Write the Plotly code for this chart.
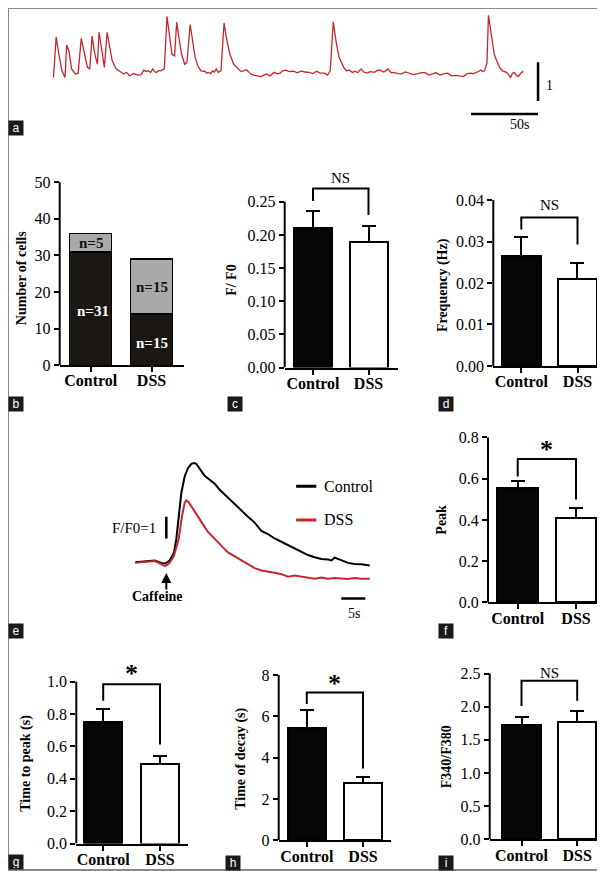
import plotly.graph_objects as go

W, H = 605, 871
SERIF = "Liberation Serif"
SANS = "Liberation Sans"
RED = "#c8262c"
BLACK = "#060606"

# ---------------- data ----------------
GROUPS = ["Control", "DSS"]

# panel a: spontaneous Ca2+ trace (time in s, F/F0 change)
a_time = [0, 2.0, 4.0, 6.3, 8.6, 9.8, 11.5, 13.5, 16.4, 18.4, 20.7, 23.0, 25.3, 27.1, 28.8, 30.8,
          32.8, 34.0, 35.7, 38.0, 40.0, 41.8, 43.8, 46.7, 49.5, 51.0, 52.4, 54.0, 55.3, 56.5, 57.6,
          59.5, 61.1, 63.0, 65.4, 67.4, 69.0, 71.1, 72.5, 74.0, 75.5, 76.9, 78.5, 79.8, 81.5, 82.7,
          84.7, 86.4, 88.4, 90.4, 91.9, 93.6, 95.6, 97.9, 99.6, 102.0, 103.7, 105.7, 107.7, 110.0,
          112.9, 114.5, 115.8, 117.3, 118.7, 120.0, 121.5, 123.0, 125.0, 127.3, 129.0, 131.6, 134.5,
          138.2, 140.0, 141.7, 144.0, 146.0, 148.0, 150.3, 152.5, 154.7, 157.0, 159.0, 161.5, 164.7,
          167.0, 169.1, 171.0, 173.4, 176.0, 179.1, 182.0, 184.9, 187.5, 190.7, 193.5, 196.4, 199.0,
          202.2, 204.5, 206.5, 208.8, 210.8, 213.1, 216.6, 218.5, 220.9, 223.0, 225.2, 227.0, 229.5,
          231.5, 233.9, 236.5, 239.6, 241.5, 243.9, 246.5, 249.7, 252.0, 254.0, 257.0, 259.8, 262.5,
          265.5, 268.5, 271.3, 274.0, 277.1, 280.0, 282.8, 285.5, 288.6, 291.5, 294.3, 297.0, 300.1,
          303.0, 305.9, 308.5, 311.6, 313.5, 315.9, 317.5, 318.8, 320.3, 321.7, 323.5, 324.6, 326.6,
          328.9, 331.8, 333.5, 335.2, 336.8, 338.1, 339.5, 341.0, 342.5, 343.9, 345.5, 346.8, 348.5,
          350.5]
a_ratio = [-0.08, 0.97, 0.52, 0.09, -0.08, 0.76, 0.61, 0.14, 0.01, 0.03, 0.93, 0.52, 0.18, 0.14, 0.99, 0.52,
           0.26, 1.09, 0.69, 0.18, 1.09, 0.78, 0.35, 0.14, 0.08, 0.03, 0.01, 0.05, 0.03, -0.04, -0.03,
           0.02, 0.01, -0.02, -0.01, 0.11, 0.08, 0.09, 0.05, 0.14, 0.07, 0.05, 0.10, 0.09, 0.12, 0.14,
           1.50, 1.03, 0.52, 0.48, 1.35, 0.95, 0.52, 0.26, 0.31, 1.29, 0.86, 0.44, 0.22, 0.09,
           0.08, 0.03, 0.05, 0.02, 0.09, 0.06, 0.14, 0.05, 0.09, 1.33, 0.95, 0.52, 0.26,
           0.14, 0.07, 0.09, 0.12, 0.05, -0.01, -0.03, -0.05, -0.06, -0.02, 0.01, -0.04, 0.05,
           0.01, 0.03, 0.09, 0.11, 0.07, 0.08, 0.04, 0.09, 0.06, 0.05, 0.02, 0.08, 0.03,
           0.03, -0.02, 0.09, 1.36, 0.86, 0.44, 0.18, 0.09, 0.11, 0.05, 0.08, 0.04, 0.14,
           0.06, 0.03, 0.07, 0.05, 0.10, 0.11, 0.06, 0.14, 0.04, 0.05, 0.02, 0.01, 0.06,
           0.03, -0.01, 0.01, 0.04, 0.05, -0.02, 0.01, 0.04, -0.02, 0.02, 0.03, -0.04, -0.03,
           -0.05, -0.06, 0.01, 0.03, 0.02, 0.05, 0.08, 0.11, 0.07, 0.09, 0.30, 1.53, 1.03,
           0.52, 0.26, 0.15, 0.09, 0.06, 0.05, 0.00, -0.08, 0.02, 0.05, -0.03, -0.06, 0.02,
           0.08]

# panel b: number of cells (stacked)
b_black = [31, 14]
b_gray = [5, 15]
b_black_text = ["n=31", "n=15"]
b_gray_text = ["n=5", "n=15"]

# panels c, d, f, g, h, i: mean and SEM
c_mean = [0.211, 0.189]; c_err = [0.025, 0.025]
d_mean = [0.0265, 0.0209]; d_err = [0.0046, 0.0039]
f_mean = [0.553, 0.411]; f_err = [0.037, 0.048]
g_mean = [0.754, 0.489]; g_err = [0.078, 0.051]
h_mean = [5.45, 2.79]; h_err = [0.87, 0.26]
i_mean = [1.73, 1.77]; i_err = [0.11, 0.16]

# significance brackets: [left leg bottom, top, right leg bottom, label y], label
c_sig = [0.251, 0.270, 0.230, 0.2855]; c_lab = "NS"
d_sig = [0.0329, 0.0358, 0.0293, 0.0388]; d_lab = "NS"
f_sig = [0.611, 0.695, 0.499, 0.725]; f_lab = "*"
g_sig = [0.883, 0.985, 0.613, 1.030]; g_lab = "*"
h_sig = [6.60, 7.15, 3.48, 7.45]; h_lab = "*"
i_sig = [2.01, 2.39, 2.09, 2.51]; i_lab = "NS"

# panel e: caffeine-induced transients (time in s, F/F0)
e_ctrl_t = [0, 1.94, 4.03, 5.42, 6.25, 7.15, 8.06, 8.54, 9.03, 9.58, 10.28, 10.97, 11.67, 12.22,
            12.71, 13.4, 14.44, 15.49, 16.53, 17.57, 18.61, 19.65, 20.69, 22.08, 23.47, 24.86,
            26.25, 27.64, 29.03, 30.42, 31.81, 33.19, 34.58, 35.97, 37.36, 38.75, 40.14, 40.83,
            41.53, 42.92, 44.31, 45.69, 47.08, 48.82]
e_ctrl_v = [0, 0.05, 0.08, -0.03, -0.06, 0.08, 0.45, 1.06, 2.12, 3.18, 3.94, 4.32, 4.52, 4.55,
            4.52, 4.32, 3.97, 3.79, 3.61, 3.33, 3.11, 2.88, 2.65, 2.35, 2.09, 1.82,
            1.44, 1.29, 1.09, 0.94, 0.79, 0.64, 0.48, 0.33, 0.23, 0.15, 0.12, 0.08,
            0.21, 0.08, -0.03, -0.08, -0.09, -0.15]
e_dss_t = [0, 1.25, 2.64, 4.03, 5.42, 6.25, 7.15, 8.06, 9.03, 9.72, 10.28, 10.63, 11.11, 11.67,
           12.36, 13.06, 14.1, 15.14, 16.18, 17.22, 18.26, 19.31, 20.69, 22.08, 23.47, 24.86,
           26.25, 27.64, 29.03, 30.42, 31.81, 33.19, 34.58, 35.97, 37.36, 38.75, 40.14, 41.53,
           42.92, 44.31, 45.69, 47.08, 48.82]
e_dss_v = [-0.03, 0.0, 0.03, 0.06, -0.09, -0.18, -0.03, 0.30, 1.06, 2.12, 2.73, 2.85, 2.76, 2.58,
           2.35, 2.12, 1.74, 1.39, 1.14, 0.91, 0.68, 0.45, 0.27, 0.08, -0.08, -0.27,
           -0.38, -0.42, -0.48, -0.55, -0.67, -0.61, -0.67, -0.73, -0.76, -0.70, -0.76, -0.73,
           -0.76, -0.77, -0.73, -0.76, -0.76]

# ---------------- helpers ----------------
def xdom(p0, p1):
    return [p0 / W, p1 / W]

def ydom(top, bottom):
    return [1 - bottom / H, 1 - top / H]

def px(x):
    return x / W

def py(y):
    return 1 - y / H

def names(n):
    return ("x" if n == 1 else f"x{n}"), ("y" if n == 1 else f"y{n}")

def key(a, n):
    return a + "axis" + ("" if n == 1 else str(n))

fig = go.Figure()
layout = dict(width=W, height=H, margin=dict(l=0, r=0, t=0, b=0),
              paper_bgcolor="white", plot_bgcolor="rgba(0,0,0,0)",
              showlegend=False, barmode="stack",
              font=dict(family=SERIF, color="black"))
shapes = []
annotations = []

# ---------------- panel a ----------------
layout["xaxis"] = dict(domain=xdom(40, 560), range=[-4.10, 383.96], visible=False, anchor="y")
layout["yaxis"] = dict(domain=ydom(0, 130), range=[-1.615, 1.718], visible=False, anchor="x")
fig.add_trace(go.Scatter(x=a_time, y=a_ratio, mode="lines", line=dict(color=RED, width=1.3),
                         xaxis="x", yaxis="y", hoverinfo="skip"))
shapes.append(dict(type="line", xref="x", yref="y", x0=361.6, x1=361.6, y0=-0.69, y1=0.31,
                   line=dict(color="black", width=2.5)))
shapes.append(dict(type="line", xref="x", yref="y", x0=311.6, x1=361.6, y0=-1.03, y1=-1.03,
                   line=dict(color="black", width=2.5)))
annotations.append(dict(xref="x", yref="y", x=370.5, y=-0.28, text="1", showarrow=False,
                        font=dict(family=SERIF, size=14)))
annotations.append(dict(xref="x", yref="y", x=348, y=-1.31, text="50s", showarrow=False,
                        font=dict(family=SERIF, size=14)))

# ---------------- bar panels ----------------
GEOM = {
    "b": dict(n=2, ax=51.7, xend=176, c0=82.7, c1=143.5, w=42, y0=361, top=168, k=3.7,
              ticks=[0, 10, 20, 30, 40, 50], fmt="d", title="Number of cells", tx=13, ty=273),
    "c": dict(n=3, ax=276.7, xend=390, c0=305, c1=360.5, w=38, y0=363.3, top=165, k=670,
              ticks=[0, 0.05, 0.10, 0.15, 0.20, 0.25], fmt=".2f", title="F/ F0", tx=222.7, ty=275),
    "d": dict(n=4, ax=485.3, xend=597, c0=513.3, c1=569.5, w=38.5, y0=361.7, top=165, k=4190,
              ticks=[0, 0.01, 0.02, 0.03, 0.04], fmt=".2f", title="Frequency (Hz)", tx=435, ty=280),
    "f": dict(n=6, ax=480, xend=596.7, c0=509.7, c1=568, w=40.5, y0=600.7, top=425, k=208.5,
              ticks=[0, 0.2, 0.4, 0.6, 0.8], fmt=".1f", title="Peak", tx=433.3, ty=516.7),
    "g": dict(n=7, ax=68.3, xend=180, c0=95.2, c1=152, w=38, y0=844.3, top=660, k=163.5,
              ticks=[0, 0.2, 0.4, 0.6, 0.8, 1.0], fmt=".1f", title="Time to peak (s)", tx=18.3, ty=763.3),
    "h": dict(n=8, ax=270.7, xend=382.7, c0=298.8, c1=355, w=38.5, y0=841, top=665, k=20.875,
              ticks=[0, 2, 4, 6, 8], fmt="d", title="Time of decay (s)", tx=233.3, ty=758.3),
    "i": dict(n=9, ax=481.7, xend=594, c0=513.5, c1=569.2, w=38.3, y0=840, top=660, k=67,
              ticks=[0, 0.5, 1.0, 1.5, 2.0, 2.5], fmt=".1f", title="F340/F380", tx=439.3, ty=756.7),
}


def setup_axes(g):
    n = g["n"]
    xn, yn = names(n)
    span = g["c1"] - g["c0"]
    r0 = -(g["c0"] - g["ax"]) / span
    r1 = 1 + (g["xend"] - g["c1"]) / span
    ymax = (g["y0"] - g["top"]) / g["k"]
    layout[key("x", n)] = dict(domain=xdom(g["ax"], g["xend"]), range=[r0, r1], anchor=yn,
                               tickvals=[0, 1], ticktext=[f"<b>{s}</b>" for s in GROUPS],
                               ticks="outside", ticklen=5,
                               tickwidth=2, tickcolor="black", showline=True, linecolor="black",
                               linewidth=2, showgrid=False, zeroline=False, ticklabelstandoff=-5,
                               tickfont=dict(family=SERIF, size=16, color="black"))
    layout[key("y", n)] = dict(domain=ydom(g["top"], g["y0"]), range=[0, ymax], anchor=xn,
                               tickvals=g["ticks"], tickformat=g["fmt"], ticks="outside", ticklen=5,
                               tickwidth=2, tickcolor="black", showline=False, showgrid=False,
                               zeroline=False, tickfont=dict(family=SERIF, size=16, color="black"))
    shapes.append(dict(type="line", xref=f"{xn} domain", yref=yn, x0=0, x1=0, y0=0,
                       y1=g["ticks"][-1], line=dict(color="black", width=2)))
    annotations.append(dict(xref="paper", yref="paper", x=px(g["tx"]), y=py(g["ty"]),
                            xanchor="center", yanchor="middle",
                            text=f"<b>{g['title']}</b>", textangle=-90, showarrow=False,
                            font=dict(family=SERIF, size=14, color="black")))
    return xn, yn, g["w"] / span


def mean_panel(g, mean, err, sig, lab):
    xn, yn, bw = setup_axes(g)
    fig.add_trace(go.Bar(x=[0, 1], y=mean, width=bw, xaxis=xn, yaxis=yn,
                         marker=dict(color=[BLACK, "white"], line=dict(color="black", width=2)),
                         error_y=dict(type="data", symmetric=False, array=err, arrayminus=[0, 0],
                                      color="black", thickness=2, width=7),
                         hoverinfo="skip"))
    shapes.append(dict(type="path", xref=xn, yref=yn,
                       path=f"M 0,{sig[0]} L 0,{sig[1]} L 1,{sig[1]} L 1,{sig[2]}",
                       line=dict(color="black", width=2)))
    if lab == "*":
        annotations.append(dict(xref=xn, yref=yn, x=0.5, y=sig[3], text="<b>*</b>", showarrow=False,
                                yshift=3, font=dict(family=SERIF, size=26, color="black")))
    else:
        annotations.append(dict(xref=xn, yref=yn, x=0.5, y=sig[3], text=lab, showarrow=False,
                                font=dict(family=SERIF, size=15, color="black")))


# panel b (stacked)
gb = GEOM["b"]
xb, yb, bwb = setup_axes(gb)
fig.add_trace(go.Bar(x=[0, 1], y=b_black, width=bwb, xaxis=xb, yaxis=yb,
                     marker=dict(color="#1b1814", line=dict(color="black", width=1.5)),
                     hoverinfo="skip"))
fig.add_trace(go.Bar(x=[0, 1], y=b_gray, width=bwb, xaxis=xb, yaxis=yb,
                     marker=dict(color="#a9a9a9", line=dict(color="black", width=1.5)),
                     hoverinfo="skip"))
for i in range(2):
    annotations.append(dict(xref=xb, yref=yb, x=i + (0.04 if i == 0 else 0), y=b_black[i] * 0.45 + (1 if i == 0 else -0.3),
                            text=f"<b>{b_black_text[i]}</b>", showarrow=False,
                            font=dict(family=SERIF, size=15, color="white")))
    annotations.append(dict(xref=xb, yref=yb, x=i, y=b_black[i] + b_gray[i] / 2,
                            text=f"<b>{b_gray_text[i]}</b>", showarrow=False,
                            font=dict(family=SERIF, size=15, color="#111111")))

mean_panel(GEOM["c"], c_mean, c_err, c_sig, c_lab)
mean_panel(GEOM["d"], d_mean, d_err, d_sig, d_lab)
mean_panel(GEOM["f"], f_mean, f_err, f_sig, f_lab)
mean_panel(GEOM["g"], g_mean, g_err, g_sig, g_lab)
mean_panel(GEOM["h"], h_mean, h_err, h_sig, h_lab)
mean_panel(GEOM["i"], i_mean, i_err, i_sig, i_lab)

# ---------------- panel e ----------------
layout["xaxis5"] = dict(domain=xdom(100, 400), range=[-5.69, 56.8], visible=False, anchor="y5")
layout["yaxis5"] = dict(domain=ydom(440, 620), range=[-2.727, 5.455], visible=False, anchor="x5")
fig.add_trace(go.Scatter(x=e_ctrl_t, y=e_ctrl_v, mode="lines", line=dict(color="black", width=2),
                         xaxis="x5", yaxis="y5", hoverinfo="skip"))
fig.add_trace(go.Scatter(x=e_dss_t, y=e_dss_v, mode="lines", line=dict(color=RED, width=2),
                         xaxis="x5", yaxis="y5", hoverinfo="skip"))
# legend
shapes.append(dict(type="line", xref="x5", yref="y5", x0=33.5, x1=37.7, y0=3.49, y1=3.49,
                   line=dict(color="black", width=3)))
shapes.append(dict(type="line", xref="x5", yref="y5", x0=33.5, x1=37.7, y0=1.94, y1=1.94,
                   line=dict(color=RED, width=3)))
annotations.append(dict(xref="x5", yref="y5", x=38.9, y=3.49, text="Control", xanchor="left",
                        showarrow=False, font=dict(family=SERIF, size=16)))
annotations.append(dict(xref="x5", yref="y5", x=38.9, y=1.94, text="DSS", xanchor="left",
                        showarrow=False, font=dict(family=SERIF, size=16)))
# scale bars
shapes.append(dict(type="line", xref="x5", yref="y5", x0=6.46, x1=6.46, y0=1.09, y1=2.09,
                   line=dict(color="black", width=2.5)))
annotations.append(dict(xref="x5", yref="y5", x=4.73, y=1.55, text="F/F0=1", xanchor="right",
                        showarrow=False, font=dict(family=SERIF, size=15)))
shapes.append(dict(type="line", xref="x5", yref="y5", x0=42.9, x1=47.9, y0=-1.67, y1=-1.67,
                   line=dict(color="black", width=2.5)))
annotations.append(dict(xref="x5", yref="y5", x=45.5, y=-2.35, text="5s", showarrow=False,
                        font=dict(family=SERIF, size=14)))
# caffeine arrow
annotations.append(dict(xref="x5", yref="y5", x=6.46, y=-0.5, text="", showarrow=True,
                        arrowhead=2, arrowsize=1, arrowwidth=2, arrowcolor="black", ax=0, ay=18))
annotations.append(dict(xref="x5", yref="y5", x=4.52, y=-1.59, text="<b>Caffeine</b>",
                        showarrow=False, font=dict(family=SERIF, size=14)))

# ---------------- panel letters ----------------
letters = [("a", 0, 113), ("b", 0, 392), ("c", 219, 392), ("d", 430, 392), ("e", 0, 621),
           ("f", 430, 621), ("g", 0, 855), ("h", 217, 856), ("i", 430, 856)]
for t, lx, ly in letters:
    annotations.append(dict(xref="paper", yref="paper", x=px(lx), y=py(ly), xanchor="left",
                            yanchor="top", text=t, showarrow=False, bgcolor="#1a1a1a",
                            width=12, height=12, borderpad=1,
                            font=dict(family=SANS, size=12, color="white")))

# outer frame
shapes.append(dict(type="rect", xref="paper", yref="paper", x0=0, x1=1, y0=0, y1=1,
                   line=dict(color="#8a8a8a", width=2)))

layout["shapes"] = shapes
layout["annotations"] = annotations
fig.update_layout(**layout)
fig.write_html("out.html")
